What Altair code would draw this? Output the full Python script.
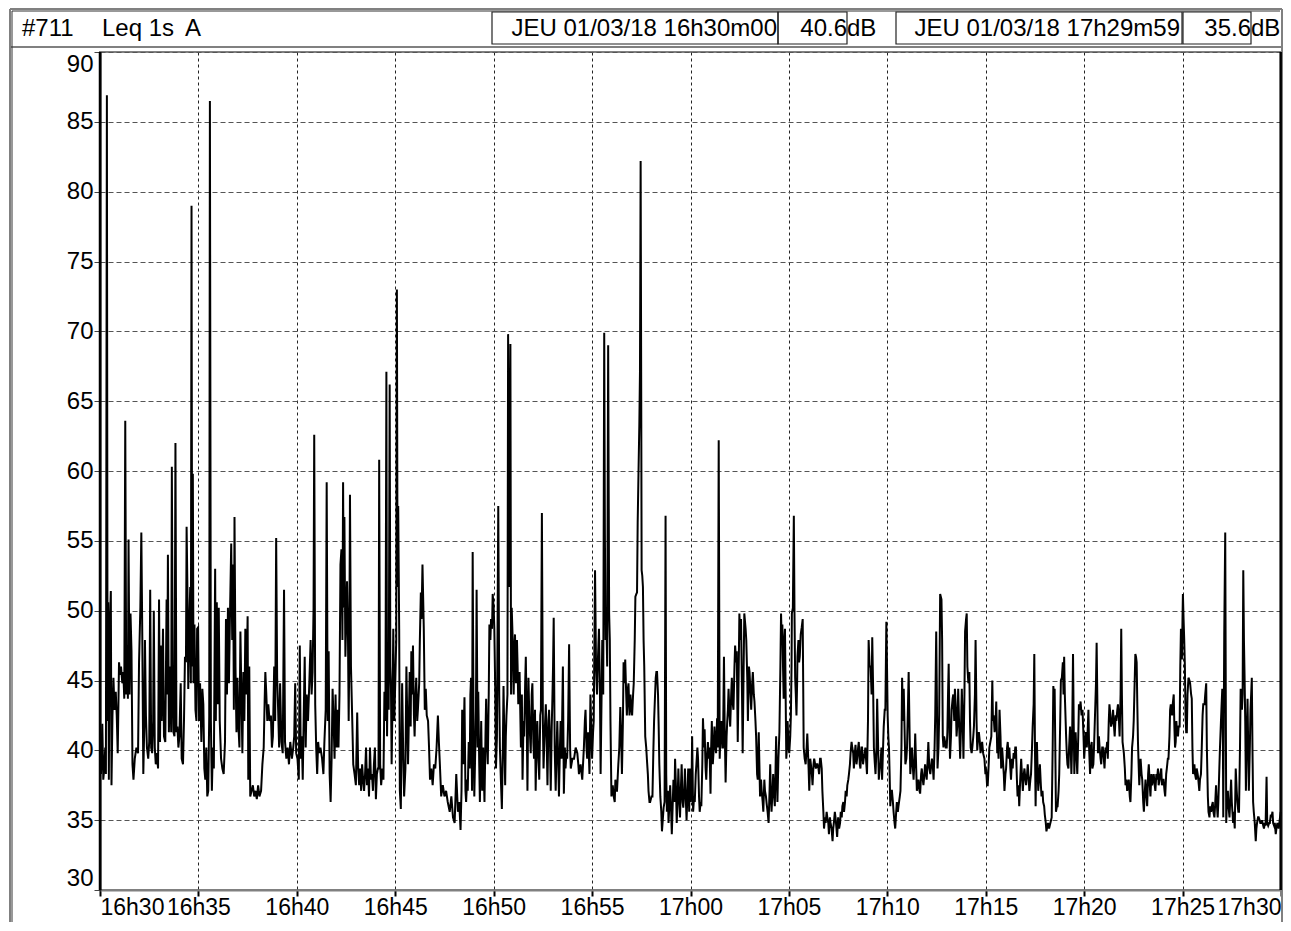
import json
import altair as alt
import pandas as pd

# ---- data: Leq 1s (dB(A)), seconds after 16h30m00 ----
seg1 = [(0,40.6),(3,38.3),(7,41.9),(10,37.9),(13,38.7),(16,40.2),(18,38.3),(21,86.9),(23,42.1),(25,50.6),
(27,37.9),(29,47.9),(33,51.4),(35,37.5),(38,42.5),(41,45.2),(44,42.9),(48,44.2),(51,42.5),(54,39.8),
(58,46.3),(61,45.4),(64,46.0),(68,44.8),(71,45.6),(74,43.7),(77,63.6),(80,44.0),(83,47.5),(85,43.7),
(87,55.1),(90,44.0),(93,49.8),(96,47.1),(99,39.0),(102,37.9),(106,39.4),(111,40.2),(116,39.8),(119,46.3),
(123,50.2),(126,55.6),(129,47.9),(132,38.3),(135,41.7),(137,47.9),(140,42.5),(143,40.2),(147,39.4),(150,40.6),
(153,51.5),(156,40.2),(159,39.8),(162,42.1),(164,50.0),(167,40.2),(170,39.0),(173,39.8),(177,38.7),(180,50.8),
(183,40.6),(185,47.5),(188,42.1),(192,48.7),(195,41.0),(199,40.6),(203,50.8),(205,44.0),(207,54.0),(210,41.3),
(213,46.0),(217,41.3),(219,60.3),(222,44.0),(224,41.3),(227,41.0),(230,62.0),(233,41.3),(236,41.7),(239,40.2),
(242,41.0),(246,44.8),(249,39.4),(253,39.0),(256,42.1),(259,46.7),(262,46.3),(264,56.0),(267,50.6),(269,44.4),
(272,48.7),(275,51.7),(277,44.8),(279,79.0),(281,46.0),(283,59.8),(285,44.8),(288,49.0),(291,42.9),(294,42.1),
(296,48.7),(299,48.8),(302,42.1),(305,44.8),(309,40.6),(312,44.4),(315,43.3),(318,38.7),(321,37.9),(324,40.2),
(327,36.7),(330,37.1),(333,42.5),(335,86.5),(338,42.1),(341,37.1),(344,40.2),(347,38.7),(351,53.0),(353,42.1),
(356,50.6),(359,43.3),(362,50.2),(365,42.1),(369,39.4),(373,38.7),(377,38.3),(381,40.6),(384,49.4),(387,44.0),
(390,50.2),(393,44.8),(396,49.4),(400,54.8),(403,47.9),(406,53.3),(408,42.9),(410,56.7),(413,46.0),(416,41.3),
(419,45.2),(422,41.7),(425,40.2),(428,48.5),(431,44.0),(434,39.8),(437,45.6),(440,42.1),(443,48.7),(446,44.0),
(450,49.6),(452,37.9),(455,46.0),(458,36.7),(462,37.1),(466,37.5),(470,36.7),(474,37.1),(478,36.5),(482,37.5),
(486,36.7),(491,37.1),(495,39.0),(499,40.2),(502,43.7),(504,45.6),(507,44.0),(510,42.1),(513,43.3),(517,42.1),
(521,42.5),(524,40.2),(527,41.0),(531,46.0),(534,42.1),(537,55.2),(540,45.2),(543,42.9),(546,40.2),(549,44.8),
(553,40.6),(557,39.8),(561,51.5),(564,40.6),(568,39.4),(572,40.2),(576,39.0),(580,40.6),(585,39.4),(589,40.2),
(592,41.0),(595,44.8),(598,39.8),(602,39.4),(606,37.9),(609,47.5),(612,39.4),(615,41.0),(618,37.9),(621,42.5),
(624,46.7),(627,40.2),(630,44.0),(634,42.1),(638,44.8),(642,47.9),(645,44.0),(648,45.6),(651,50.2),(653,62.6),
(656,43.3),(659,40.2),(662,38.3),(665,40.6),(668,39.8),(672,40.2),(677,39.4),(681,38.3),(684,40.6),(688,42.9),
(691,59.2),(694,42.1),(697,47.1),(700,38.3),(703,36.3),(706,39.4),(709,44.4),(712,42.1),(715,39.4),(718,44.0),
(721,40.2),(724,42.9),(727,40.2),(730,44.0),(733,53.3),(736,54.4),(739,47.9),(741,59.2),(743,50.2),(745,56.7),
(748,46.7),(751,49.8),(753,52.1),(756,47.9),(758,42.1),(760,47.1),(762,58.3),(765,46.0),(769,42.1),(772,39.0),
(776,38.3),(780,37.5),(784,42.7),(787,38.7),(790,37.5),(793,38.7),(796,37.1),(799,39.0),(802,37.9),(805,37.1),
(808,38.3),(811,40.2),(814,37.5),(817,38.7),(820,36.7),(823,40.2),(826,37.9),(829,38.3),(832,37.1),(835,39.0),
(838,40.2),(841,36.5),(844,38.3),(847,38.7),(849,38.7),(851,60.8),(854,39.0),(857,37.5),(861,38.7),(864,37.9),
(867,44.2),(870,42.1),(873,67.1),(875,41.0),(877,46.0),(880,42.9),(883,66.2),(885,46.0),(887,44.4)]

seg2 = [(889,39.0),(892,44.0),(894,48.7),(897,42.1),(900,44.8),(903,47.9),(905,73.0),(907,51.7),(909,57.5),(912,48.7),
(914,37.1),(917,35.8),(921,44.8),(924,40.2),(927,36.7),(931,38.7),(934,46.0),(937,41.7),(939,39.0),(942,42.9),
(944,45.6),(947,41.7),(949,47.1),(952,44.0),(954,47.5),(957,42.5),(959,41.0),(962,44.0),(964,45.2),(967,42.1),
(969,42.9),(973,44.8),(975,47.9),(978,51.3),(980,49.4),(983,53.3),(985,51.0),(987,48.7),(990,42.9),(993,44.4),
(996,42.5),(1000,42.1),(1003,40.2),(1006,37.9),(1010,38.7),(1014,37.5),(1018,39.0),(1022,38.7),(1026,40.2),(1030,42.5),
(1033,40.6),(1036,39.0),(1040,36.7),(1045,37.5),(1050,36.7),(1055,37.1),(1060,36.3),(1066,35.6),(1071,36.7),(1076,35.2),
(1081,34.8),(1086,38.3),(1091,35.6),(1095,36.3),(1099,34.3),(1102,37.1),(1104,42.9),(1107,39.0),(1111,43.8),(1114,37.1),
(1116,36.3),(1119,37.9),(1121,37.1),(1124,40.6),(1127,38.7),(1129,44.0),(1131,45.2),(1134,37.1),(1136,54.2),(1139,40.2),
(1141,36.7),(1144,40.2),(1146,42.9),(1148,51.5),(1151,40.2),(1153,44.2),(1156,39.0),(1158,36.3),(1162,42.1),(1165,37.1),
(1168,40.2),(1172,36.3),(1175,41.0),(1177,43.7),(1180,40.2),(1182,39.0),(1185,44.0),(1187,49.0),(1190,47.9),(1192,49.4),
(1195,48.7),(1197,51.2),(1200,50.2),(1202,48.7),(1205,44.0),(1207,38.7),(1210,41.0),(1214,57.5),(1217,44.0),(1219,40.2),
(1222,37.9),(1225,35.8),(1228,40.2),(1230,44.6),(1233,40.2),(1235,37.5),(1237,41.0),(1239,42.5),(1242,44.0),(1244,69.8),
(1248,51.7),(1251,69.1),(1253,44.0),(1255,50.2),(1258,47.9),(1261,44.0),(1263,47.1),(1265,48.3),(1268,44.8),(1271,47.9),
(1273,46.0),(1275,43.3),(1279,45.6),(1283,40.2),(1286,44.0),(1288,37.9),(1291,42.1),(1293,41.0),(1296,44.8),(1298,46.7),
(1301,41.7),(1303,37.1),(1306,45.2),(1309,42.1),(1313,39.8),(1316,44.0),(1318,44.8),(1321,40.6),(1323,39.4),(1326,42.9),
(1328,37.1),(1331,41.0),(1333,42.1),(1336,39.4),(1339,37.9),(1342,42.5),(1344,42.9),(1347,57.0),(1350,42.1),(1352,38.7),
(1355,41.0),(1359,43.3),(1362,40.2),(1364,37.5),(1367,42.1),(1369,42.9),(1372,40.2),(1374,37.1),(1377,41.7),(1379,43.7),
(1381,46.0),(1383,49.5),(1386,40.2),(1389,37.1),(1392,40.2),(1394,42.1),(1397,39.0),(1399,36.7),(1402,40.2),(1404,42.1),
(1407,39.4),(1411,46.0),(1414,36.9),(1417,40.2),(1419,38.7),(1422,39.8),(1424,39.4),(1427,42.1),(1430,47.6),(1433,40.2),
(1435,38.7),(1440,39.4),(1445,39.4),(1450,40.2),(1455,39.8),(1458,39.0),(1460,38.3),(1465,39.0),(1470,37.9),(1475,40.2),
(1478,42.1),(1480,42.9),(1483,40.2),(1485,39.4),(1488,41.3),(1492,38.3),(1495,44.0),(1498,41.0),(1500,39.4),(1503,41.3),
(1505,42.1),(1509,52.9),(1512,46.0),(1515,44.0),(1517,46.0),(1521,48.7),(1524,44.0),(1526,38.3),(1529,44.0),(1531,47.9),
(1534,44.0),(1537,69.9),(1539,55.6),(1541,47.9),(1544,48.7),(1546,46.0),(1549,69.0),(1552,49.8),(1554,47.9),(1556,42.1),
(1559,36.7),(1563,37.5),(1566,36.7),(1569,36.3),(1571,37.9),(1574,37.1),(1576,37.1),(1580,39.0),(1583,40.2),(1586,43.1),
(1589,40.6),(1591,38.3),(1594,42.1),(1596,46.3),(1599,44.8),(1601,46.5),(1604,44.0),(1606,42.5),(1609,44.4),(1611,44.8),
(1614,42.5),(1617,44.0),(1620,42.9),(1622,42.5),(1625,44.0),(1627,44.8),(1630,47.9),(1632,51.0),(1635,51.2),(1637,51.3),
(1639,56.3),(1642,60.6),(1644,63.3),(1646,67.1),(1648,82.2),(1650,63.3),(1651,52.9),(1653,52.5),(1655,51.7),(1657,47.9),
(1659,46.0),(1662,41.0),(1665,40.2),(1667,39.4),(1670,38.3),(1672,37.1),(1675,36.3),(1677,36.3),(1681,36.7),(1684,36.7),
(1687,40.2),(1689,42.1),(1692,44.0),(1694,45.2),(1696,45.6),(1698,45.6),(1701,44.0),(1703,41.7),(1705,39.0),(1708,36.7),
(1711,35.6),(1713,34.2),(1716,35.2),(1718,35.9),(1721,36.3),(1724,56.8),(1726,38.3),(1728,35.6),(1731,37.1),(1733,34.8),
(1736,36.3),(1738,37.5),(1741,35.6),(1743,34.0),(1746,36.3),(1748,37.9),(1751,36.3),(1753,39.4),(1756,37.1),(1758,34.8),
(1761,36.7),(1763,38.7),(1766,36.3),(1768,35.2),(1771,37.5),(1773,39.0),(1776,36.3),(1778,35.9),(1781,37.1),(1783,38.7),
(1786,36.3),(1788,35.0),(1791,37.1),(1793,38.7),(1796,35.6)]

seg3 = [(1798,38.7),(1801,36.3),(1803,37.1),(1805,41.0),(1808,35.6),(1811,36.7),(1813,36.3),(1816,38.3),(1818,39.0),(1821,40.2),
(1823,39.4),(1826,36.7),(1828,35.6),(1831,36.3),(1833,36.0),(1836,39.0),(1838,42.3),(1841,40.2),(1843,41.5),(1846,38.7),
(1848,37.9),(1851,39.8),(1853,40.6),(1856,39.4),(1858,40.2),(1861,36.9),(1863,40.2),(1865,42.1),(1868,39.0),(1871,40.2),
(1873,41.7),(1876,40.2),(1878,39.8),(1881,42.3),(1883,40.2),(1886,62.2),(1889,39.4),(1892,41.7),(1894,42.1),(1897,40.2),
(1899,40.2),(1902,46.7),(1904,42.1),(1907,37.7),(1910,41.0),(1912,42.1),(1914,42.9),(1916,44.4),(1919,42.5),(1921,41.7),
(1924,44.0),(1926,45.2),(1929,43.3),(1931,42.9),(1934,46.0),(1936,47.5),(1939,46.3),(1941,47.1),(1944,40.6),(1946,44.0),
(1949,49.8),(1952,47.9),(1954,49.4),(1957,44.0),(1959,39.8),(1962,46.0),(1964,49.8),(1968,48.7),(1970,47.9),(1973,45.2),
(1975,42.1),(1978,46.0),(1980,45.6),(1983,44.0),(1985,42.9),(1988,44.8),(1990,45.6),(1993,44.0),(1995,43.5),(1998,42.1),
(2000,41.0),(2003,38.3),(2005,37.9),(2008,41.3),(2010,39.0),(2012,36.7),(2015,37.9),(2017,37.1),(2020,36.3),(2022,35.6),
(2025,37.9),(2027,37.1),(2030,36.7),(2032,36.2),(2035,35.6),(2038,34.8),(2041,37.1),(2043,39.0),(2045,36.7),(2047,35.6),
(2050,37.1),(2052,38.3),(2055,36.7),(2057,36.0),(2059,38.3),(2061,41.0),(2063,38.3),(2065,36.3),(2068,39.4),(2071,41.3),
(2074,46.0),(2076,49.8),(2078,47.9),(2080,49.0),(2082,46.0),(2084,43.7),(2086,47.9),(2088,48.7),(2090,44.0),(2092,39.4),
(2094,40.2),(2096,42.1),(2099,40.2),(2101,39.8),(2104,41.0),(2106,42.5),(2108,46.0),(2109,49.8),(2112,50.2),(2115,56.8),
(2117,49.8),(2119,45.2),(2121,44.0),(2123,42.5),(2125,44.8),(2126,46.7),(2129,47.9),(2131,46.3),(2133,46.7),(2136,48.3),
(2139,48.8),(2142,49.4),(2145,40.2),(2148,39.4),(2151,39.0),(2154,40.2),(2156,41.2),(2160,38.7),(2162,37.1),(2165,39.4),
(2167,39.0),(2170,38.3),(2172,37.5),(2175,39.0),(2177,39.4),(2180,39.0),(2182,38.7),(2185,39.0),(2187,39.0),(2190,38.7),
(2192,38.3),(2195,39.4),(2197,39.4),(2200,38.7),(2202,37.1),(2205,35.6),(2207,34.4),(2210,35.2),(2212,34.8),(2215,35.6),
(2217,35.2),(2220,34.8),(2222,34.0),(2225,35.2),(2227,34.8),(2230,34.4),(2233,33.5),(2235,34.4),(2237,34.8),(2240,35.6),
(2242,35.2),(2245,34.4),(2247,33.8),(2250,35.2),(2253,34.4),(2256,34.8),(2258,35.6),(2261,35.2),(2263,36.0),(2266,36.3),
(2268,35.6),(2271,36.3),(2273,37.1),(2276,36.7),(2278,37.5),(2281,37.9),(2283,38.3),(2286,39.0),(2288,39.8),(2291,40.6),
(2293,40.2),(2296,39.8),(2298,38.7),(2301,39.8),(2303,40.4),(2306,39.0),(2308,39.4),(2311,40.2),(2313,40.6),(2316,39.0),
(2318,38.7),(2321,40.2),(2323,40.2),(2326,39.0),(2328,39.4),(2331,39.8),(2333,40.2),(2336,39.0),(2338,38.3),(2341,42.1),
(2343,47.9),(2346,46.0),(2349,46.0),(2352,44.0),(2354,48.1),(2357,44.0),(2359,40.2),(2362,39.0),(2364,38.3),(2367,40.2),
(2369,43.7),(2372,40.2),(2374,37.9),(2377,38.7),(2379,39.0),(2382,40.2),(2384,37.9),(2387,40.2),(2389,41.7),(2392,42.9),
(2394,42.9),(2397,49.2),(2399,46.0),(2401,42.5),(2403,41.0),(2405,40.2),(2407,38.3),(2409,36.0),(2412,37.1),(2414,37.1),
(2417,36.3),(2419,35.6),(2422,34.8),(2424,34.4),(2427,35.6),(2429,36.3),(2432,35.6),(2434,36.0),(2438,36.7),(2440,37.1),
(2443,40.2),(2445,45.2),(2448,42.1),(2450,44.4),(2453,41.0),(2455,39.0),(2458,39.4),(2460,40.2),(2463,43.3),(2465,45.6),
(2468,41.0),(2470,38.3),(2473,39.4),(2475,40.2),(2478,38.7),(2480,37.9),(2483,39.4),(2485,41.2),(2488,38.7),(2490,37.1),
(2493,37.5),(2495,37.9),(2498,37.1),(2500,36.9),(2503,38.3),(2505,38.7),(2508,37.9),(2510,37.5),(2513,38.3),(2515,39.0),
(2518,38.3),(2520,37.9),(2523,39.4),(2525,40.6),(2528,38.7),(2531,38.3),(2534,39.0),(2536,39.4),(2539,38.7),(2541,37.9),
(2544,40.2),(2546,42.5),(2549,48.5),(2551,44.0),(2553,38.7),(2556,40.2),(2558,42.5),(2561,51.2),(2563,51.0),(2565,50.8),
(2567,47.9),(2569,41.0),(2571,40.2),(2573,41.0),(2576,40.6),(2578,40.2),(2581,40.2),(2583,41.3),(2585,44.0),(2587,46.2),
(2589,42.1),(2591,39.4),(2594,41.0),(2596,42.9),(2599,43.7),(2601,44.0),(2604,42.1),(2606,44.4),(2609,42.9),(2611,41.0),
(2614,42.1),(2616,44.4),(2619,41.7),(2622,39.4),(2625,42.1),(2627,44.4),(2630,41.7),(2632,39.4),(2635,44.0),(2637,48.5),
(2640,49.4),(2642,49.8),(2644,46.0),(2647,44.8),(2650,45.6),(2652,42.1),(2654,40.2),(2657,39.8),(2659,40.2),(2662,41.0),
(2664,41.7),(2667,44.0),(2669,47.9),(2672,42.1),(2674,40.0),(2677,41.0),(2679,41.3),(2682,40.6),(2684,39.8),(2687,40.2),
(2689,40.6),(2692,39.8)]

seg4 = [(2696,39.4),(2699,38.3),(2701,38.7),(2704,37.5),(2706,37.5),(2709,39.0),(2711,40.2),(2714,40.6),(2717,41.0),(2720,45.0),
(2722,42.1),(2724,42.5),(2727,41.3),(2730,42.1),(2732,43.5),(2735,39.8),(2737,40.6),(2739,39.4),(2742,42.9),(2745,41.0),
(2747,38.7),(2750,40.2),(2752,39.4),(2755,38.3),(2757,37.1),(2760,38.3),(2762,38.7),(2765,40.2),(2767,40.6),(2770,39.4),
(2772,40.2),(2775,38.7),(2777,37.9),(2780,39.4),(2782,38.7),(2785,39.8),(2787,39.4),(2790,40.2),(2792,40.2),(2795,37.9),
(2797,36.7),(2800,37.5),(2802,36.0),(2805,37.9),(2808,39.4),(2811,37.9),(2813,37.1),(2816,38.3),(2818,38.7),(2821,37.9),
(2823,37.5),(2826,38.3),(2828,39.0),(2831,37.9),(2833,37.1),(2836,37.9),(2838,38.3),(2841,40.2),(2843,41.7),(2846,43.3),
(2848,46.9),(2850,40.2),(2852,36.0),(2854,39.4),(2856,40.6),(2858,38.7),(2860,37.1),(2863,38.3),(2865,39.0),(2868,37.5),
(2870,36.7),(2873,37.1),(2875,36.3),(2878,36.0),(2880,35.4),(2883,34.8),(2885,34.2),(2888,34.6),(2890,34.8),(2893,34.4),
(2895,34.6),(2899,35.0),(2901,35.2),(2904,40.2),(2906,44.6),(2908,44.0),(2910,44.4),(2912,40.2),(2914,35.6),(2917,36.0),
(2919,36.0),(2922,37.1),(2924,38.3),(2927,42.1),(2929,45.0),(2932,45.2),(2935,46.3),(2937,44.0),(2939,46.7),(2941,44.0),
(2943,42.5),(2945,41.0),(2947,39.8),(2949,39.0),(2952,38.7),(2954,40.2),(2957,41.7),(2959,40.2),(2961,38.3),(2963,40.2),
(2966,46.9),(2968,42.1),(2970,38.3),(2972,40.2),(2974,41.3),(2977,39.4),(2979,38.3),(2982,41.0),(2984,43.3),(2987,42.9),
(2989,43.5),(2992,42.5),(2995,42.9),(2998,41.0),(3000,39.4),(3003,40.6),(3005,41.3),(3008,40.2),(3010,41.0),(3013,42.9),
(3015,40.2),(3018,38.3),(3020,40.2),(3023,40.6),(3025,38.7),(3028,39.0),(3030,40.2),(3033,42.5),(3036,44.8),(3038,47.7),
(3040,44.0),(3042,39.8),(3045,41.0),(3047,40.2),(3050,39.4),(3052,39.0),(3055,40.2),(3057,40.2),(3060,39.4),(3062,38.7),
(3065,40.2),(3067,39.8),(3070,40.6),(3072,39.4),(3075,42.1),(3077,43.3),(3080,42.5),(3082,41.7),(3086,42.1),(3088,42.9),
(3091,41.7),(3093,41.0),(3096,42.5),(3098,42.1),(3101,42.9),(3103,43.3),(3106,42.1),(3108,41.0),(3111,44.0),(3113,48.7),
(3115,44.0),(3117,40.6),(3119,40.2),(3121,39.8),(3124,38.7),(3126,37.5),(3129,37.9),(3131,37.1),(3134,37.5),(3136,37.9),
(3139,36.7),(3141,36.3),(3144,38.3),(3146,40.2),(3149,41.0),(3151,42.1),(3153,44.0),(3156,46.9),(3158,46.7),(3160,46.3),
(3162,43.3),(3164,40.6),(3166,39.0),(3168,37.5),(3170,38.7),(3172,39.4),(3175,38.3),(3177,37.9),(3180,36.3),(3182,35.6),
(3185,37.1),(3187,37.9),(3190,36.7),(3192,36.0),(3195,38.3),(3197,39.0),(3200,37.5),(3202,36.7),(3205,38.3),(3207,37.5),
(3210,37.9),(3212,38.3),(3215,37.5),(3217,37.1),(3220,38.3),(3222,37.9),(3225,38.7),(3227,37.5),(3230,37.9),(3232,38.3),
(3235,38.7),(3237,37.5),(3240,37.9),(3242,37.9),(3245,37.1),(3247,36.7),(3250,38.3),(3252,38.7),(3255,39.4),(3257,39.4),
(3260,41.0),(3262,42.9),(3264,43.3),(3268,42.5),(3270,43.3),(3273,44.0),(3275,41.7),(3277,40.2),(3279,40.6),(3281,42.1),
(3283,41.3),(3286,41.0),(3288,41.7),(3291,41.7),(3293,46.0),(3295,48.7),(3297,47.9),(3298,46.5),(3300,49.8),(3301,51.2),
(3303,49.4),(3305,47.9),(3307,46.0),(3309,42.5),(3311,41.3),(3313,41.3),(3315,44.0),(3318,45.2),(3321,45.0),(3323,44.8),
(3326,44.0),(3328,43.7),(3330,40.2),(3332,38.3),(3334,38.7),(3336,39.0),(3338,38.3),(3341,37.9),(3343,38.7),(3346,38.3),
(3348,37.9),(3351,37.1),(3353,37.9),(3356,38.3),(3358,39.8),(3361,42.5),(3363,43.3),(3367,43.3),(3369,44.0),(3372,44.8),
(3374,40.2),(3377,36.7),(3379,35.6),(3382,35.2),(3384,36.0),(3387,35.6),(3389,36.0),(3392,36.3),(3394,35.6),(3397,35.2),
(3399,36.0),(3402,37.5),(3404,36.3),(3407,35.2),(3409,36.3),(3412,38.7),(3414,40.2),(3417,42.1),(3419,43.3),(3421,44.4),
(3423,40.2),(3424,35.2),(3427,48.3),(3430,55.6),(3433,34.8),(3435,36.3),(3438,37.1),(3440,36.0),(3443,35.2),(3445,36.3),
(3448,37.9),(3450,36.3),(3454,34.8),(3456,35.6),(3459,34.4),(3462,38.7),(3465,37.1),(3467,36.3),(3470,35.6),(3472,35.6),
(3475,40.2),(3477,44.4),(3479,44.0),(3481,42.9),(3483,44.0),(3485,52.9),(3487,47.9),(3489,45.2),(3491,42.1),(3493,37.1),
(3495,40.2),(3498,43.7),(3500,40.2),(3502,37.1),(3505,40.2),(3507,42.9),(3509,44.0),(3511,45.2),(3513,40.2),(3515,36.3),
(3517,35.6),(3520,34.8),(3523,33.5),(3525,34.4),(3527,34.8),(3530,35.2),(3532,35.2),(3535,35.0),(3537,34.8),(3540,34.8),
(3542,35.0),(3546,34.6),(3548,34.4),(3551,34.8),(3553,34.6),(3556,38.1),(3558,34.8),(3561,34.6),(3564,34.8),(3566,34.8),
(3569,35.4),(3571,35.2),(3574,35.6),(3576,34.8),(3579,34.6),(3581,34.8),(3584,34.0),(3586,34.4),(3589,34.8),(3591,34.6),
(3593,34.4),(3599,35.6)]

tick_labels = ["16h30", "16h35", "16h40", "16h45", "16h50", "16h55", "17h00",
               "17h05", "17h10", "17h15", "17h20", "17h25", "17h30"]
y_ticks = [30, 35, 40, 45, 50, 55, 60, 65, 70, 75, 80, 85, 90]
cursor_times = [0, 3599]
header_id = ["#711", "Leq 1s", "A"]
cursor_stamps = ["JEU 01/03/18 16h30m00", "JEU 01/03/18 17h29m59"]
cursor_levels = ["40.6", "35.6"]
unit = "dB"

rows = seg1 + seg2 + seg3 + seg4
df = pd.DataFrame(rows, columns=["t", "db"])
cur_df = pd.DataFrame({"t": cursor_times})

W, H = 1181, 838
FONT = "Liberation Sans"

xscale = alt.Scale(domain=[0, 3600], nice=False, zero=False)
yscale = alt.Scale(domain=[30, 90], nice=False, zero=False)

label_expr = json.dumps(tick_labels) + "[round(datum.value/300)]"

xaxis = alt.Axis(values=list(range(0, 3601, 300)), labelExpr=label_expr, title=None,
                 grid=True, gridColor="#222", gridDash=[3, 3], gridWidth=1,
                 tickColor="#000", tickWidth=2, tickSize=6,
                 domainColor="#808080", domainWidth=2,
                 labelFlush=True, labelOverlap=False, labelPadding=0,
                 labelFont=FONT, labelFontSize=23, labelColor="#000")
yaxis = alt.Axis(values=y_ticks, title=None, grid=True, gridColor="#555",
                 gridDash=[5, 3], gridWidth=1, tickColor="#444", tickWidth=1,
                 tickSize=6, domainColor="#000", domainWidth=2,
                 labelFlush=True, labelOverlap=False, labelPadding=1,
                 labelFont=FONT, labelFontSize=24, labelColor="#000")

line = alt.Chart(df).mark_line(color="black", strokeWidth=2).encode(
    x=alt.X("t:Q", scale=xscale, axis=xaxis),
    y=alt.Y("db:Q", scale=yscale, axis=yaxis),
)

cursors = alt.Chart(cur_df).mark_rule(color="black", strokeWidth=2.5).encode(
    x=alt.X("t:Q", scale=xscale), y=alt.value(0), y2=alt.value(H)
)

one = pd.DataFrame({"k": [0]})


def rule(x1, x2, y1, y2, color="#808080", w=2):
    return alt.Chart(one).mark_rule(color=color, strokeWidth=w).encode(
        x=alt.value(x1), x2=alt.value(x2), y=alt.value(y1), y2=alt.value(y2))


def box(x1, x2, y1, y2):
    return alt.Chart(one).mark_rect(fill=None, fillOpacity=0, stroke="#222",
                                    strokeWidth=1.2).encode(
        x=alt.value(x1), x2=alt.value(x2), y=alt.value(y1), y2=alt.value(y2))


def text(s, x, y, align="left"):
    return alt.Chart(one).mark_text(text=s, align=align, baseline="alphabetic",
                                    font=FONT, fontSize=24, color="black").encode(
        x=alt.value(x), y=alt.value(y))


RIGHT = 1182
BOTTOM = 870
frame = [
    rule(-90, RIGHT, -43, -43, "#808080", 2),
    rule(-90, -90, -43, BOTTOM, "#808080", 2),
    rule(RIGHT, RIGHT, -43, BOTTOM, "#808080", 2),
    rule(-90, RIGHT, -5, -5, "#808080", 2),
    rule(-88, RIGHT - 2, -41, -41, "#333", 1),
    rule(-88, -88, -41, BOTTOM, "#333", 1),
]
boxes = [box(392, 678, -40, -8), box(678, 747, -40, -8),
         box(796, 1082, -40, -8), box(1083, 1151, -40, -8)]
texts = [
    text(header_id[0], -78, -16),
    text(header_id[1], 2, -16),
    text(header_id[2], 85, -16),
    text(cursor_stamps[0], 677, -16, "right"),
    text(cursor_levels[0], 747, -16, "right"),
    text(unit, 747, -16),
    text(cursor_stamps[1], 1080, -16, "right"),
    text(cursor_levels[1], 1151, -16, "right"),
    text(unit, 1151, -16),
]

chart = alt.layer(*frame, *boxes, *texts, line, cursors).properties(
    width=W, height=H,
    autosize=alt.AutoSizeParams(type="none"),
    padding={"left": 92, "top": 44, "right": 2, "bottom": 32},
).configure_view(stroke="#808080", strokeWidth=2)

chart.save("out.html", embed_options={"renderer": "svg", "actions": False})
